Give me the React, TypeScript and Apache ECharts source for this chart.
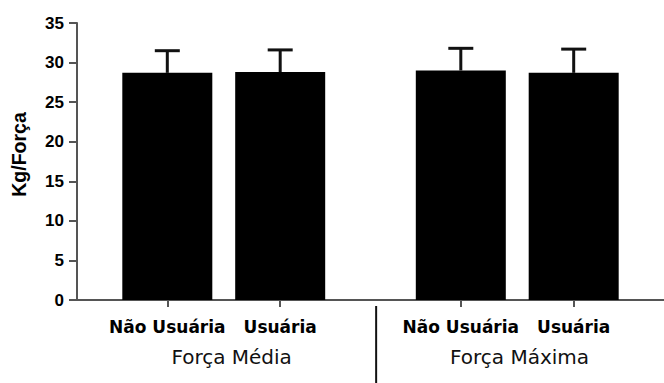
import React, { useEffect, useRef } from "react";
import * as echarts from "echarts";

// Grip strength (Kg/Força) by group, mean and SD
const categories = ["Não Usuária", "Usuária", "Não Usuária", "Usuária"];
const groups = ["Força Média", "Força Máxima"];
const means = [28.7, 28.8, 29.0, 28.7];
const sds = [2.8, 2.8, 2.8, 3.0];
const yTicks = [0, 5, 10, 15, 20, 25, 30, 35];

// layout along the x value axis (slot units)
const slots = [0, 1, 2.6, 3.6];
const groupCenters = [0.57, 3.12];
const separatorAt = 1.85;

const AXIS_COLOR = "#555";
const BOLD_FONT = "DejaVu Sans";

export default function App() {
  const ref = useRef<HTMLDivElement>(null);

  useEffect(() => {
    if (!ref.current) return;
    const chart = echarts.init(ref.current, undefined, { renderer: "svg" });

    const barData = slots.map((x, i) => [x, means[i]]);
    const errData = slots.map((x, i) => [x, means[i], means[i] + sds[i]]);

    chart.setOption({
      animation: false,
      backgroundColor: "#fff",
      grid: {
        left: 77,
        right: 0,
        top: 23,
        bottom: 83,
        containLabel: false,
        outerBoundsMode: "none",
      },
      xAxis: {
        type: "value",
        min: -0.8,
        max: 4.4,
        splitLine: { show: false },
        axisLine: { show: true, onZero: false, lineStyle: { color: AXIS_COLOR, width: 2 } },
        axisTick: {
          show: true,
          customValues: slots,
          length: 7,
          lineStyle: { color: AXIS_COLOR, width: 2 },
        },
        axisLabel: {
          show: true,
          customValues: slots,
          formatter: (v: number) => {
            const i = slots.findIndex((s) => Math.abs(s - v) < 1e-6);
            return i >= 0 ? categories[i] : "";
          },
          margin: 27,
          verticalAlign: "middle",
          color: "#000",
          fontFamily: BOLD_FONT,
          fontWeight: "bold",
          fontSize: 17,
        },
      },
      yAxis: {
        type: "value",
        min: 0,
        max: 35,
        interval: 5,
        name: "Kg/Força",
        nameLocation: "middle",
        nameGap: 48,
        nameRotate: 90,
        nameTextStyle: {
          color: "#000",
          fontFamily: "Liberation Sans",
          fontWeight: "bold",
          fontSize: 19.5,
          padding: [0, 0, 0, 14],
        },
        splitLine: { show: false },
        axisLine: { show: true, onZero: false, lineStyle: { color: AXIS_COLOR, width: 2 } },
        axisTick: { show: true, length: 8, lineStyle: { color: AXIS_COLOR, width: 2 } },
        axisLabel: {
          margin: 13,
          color: "#000",
          fontFamily: "Liberation Sans",
          fontWeight: "bold",
          fontSize: 17,
          formatter: (v: number) => (yTicks.includes(v) ? String(v) : ""),
        },
      },
      series: [
        {
          type: "bar",
          data: barData,
          barWidth: 90,
          itemStyle: { color: "#000" },
        },
        {
          // upper SD whiskers
          type: "custom",
          data: errData,
          z: 3,
          renderItem: (params: any, api: any) => {
            const x = api.value(0);
            const top = api.coord([x, api.value(1)]);
            const hi = api.coord([x, api.value(2)]);
            const half = 12.5;
            const style = { stroke: "#111", lineWidth: 3 };
            return {
              type: "group",
              children: [
                { type: "line", shape: { x1: top[0], y1: top[1], x2: hi[0], y2: hi[1] }, style },
                { type: "line", shape: { x1: hi[0] - half, y1: hi[1], x2: hi[0] + half, y2: hi[1] }, style },
              ],
            };
          },
        },
        {
          // group captions under the category labels
          type: "custom",
          data: groupCenters.map((x, i) => [x, 0, groups[i]]),
          clip: false,
          renderItem: (params: any, api: any) => {
            const p = api.coord([api.value(0), 0]);
            return {
              type: "text",
              style: {
                x: p[0],
                y: p[1] + 57,
                text: groups[params.dataIndex],
                fill: "#111",
                fontFamily: "DejaVu Sans",
                fontSize: 20,
                align: "center",
                verticalAlign: "middle",
              },
            };
          },
        },
        {
          // divider between the two groups
          type: "custom",
          data: [[separatorAt, 0]],
          clip: false,
          renderItem: (params: any, api: any) => {
            const p = api.coord([api.value(0), 0]);
            return {
              type: "line",
              shape: { x1: p[0], y1: p[1] + 6, x2: p[0], y2: p[1] + 90 },
              style: { stroke: "#111", lineWidth: 2 },
            };
          },
        },
      ],
    });

    return () => chart.dispose();
  }, []);

  return (
    <div
      ref={ref}
      style={{ position: "fixed", left: 0, top: 0, width: 664, height: 383, background: "#fff" }}
    />
  );
}
